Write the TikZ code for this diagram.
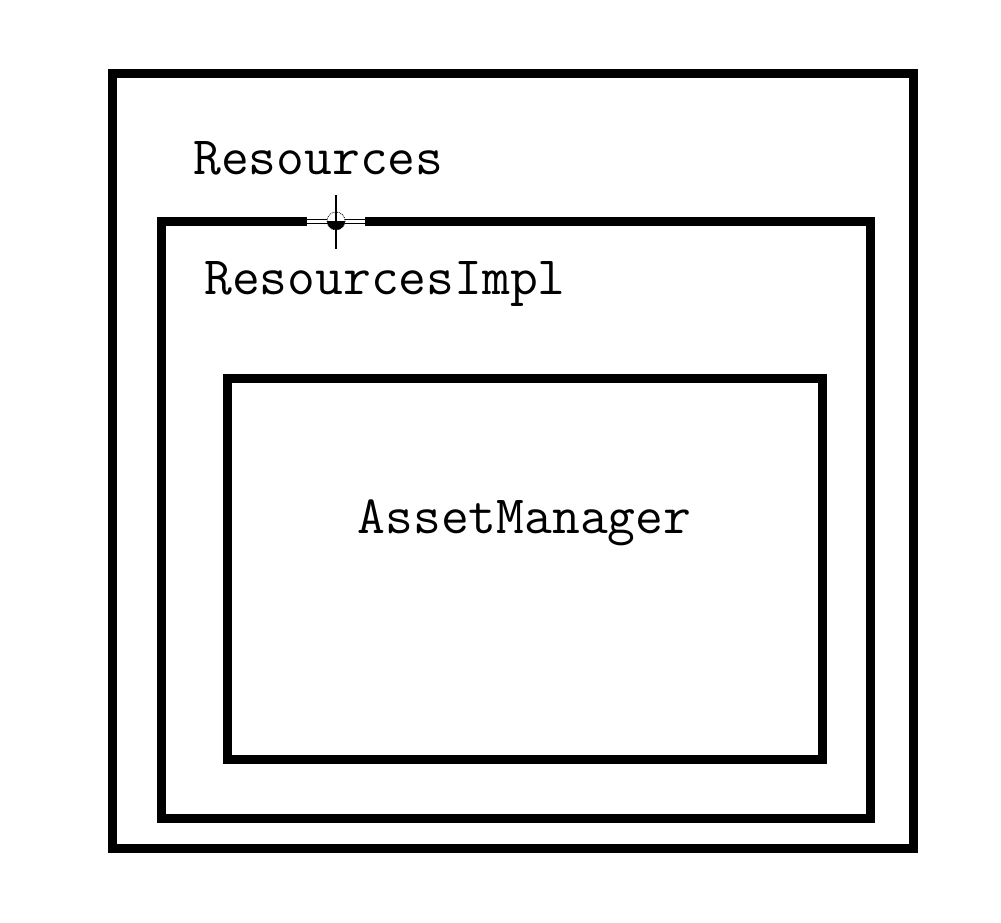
\documentclass[tikz,border=0pt]{standalone}
\tikzset{box/.style={draw,line width=9pt,inner sep=0pt,outer sep=0pt},
         label text/.style={font=\fontsize{54}{60}\ttfamily,inner sep=0pt,anchor=base west}}

\begin{document}
\begin{tikzpicture}[x=1pt,y=-1pt]
            \useasboundingbox (0,0) rectangle (1001,923);
            \node[box,minimum width=801.5pt,minimum height=775pt] (resources) at (512.75,461) {};
            \node[box,minimum width=709pt,minimum height=597pt] (resimpl) at (516,519.5) {};
            \node[box,minimum width=595pt,minimum height=381pt] (assetmgr) at (524.5,568.5) {};
            \node[label text] (reslabel) at (193,175) {Resources};
            \node[label text] (impllabel) at (204,294) {ResourcesImpl};
            \node[label text,anchor=base] (assetlabel) at (assetmgr.center |- 0,533) {AssetManager};
            % cursor on the top edge
            \fill[white] (307,215) rectangle (365,227);
            \draw[line width=1pt] (307,219) -- (365,219) (307,223) -- (365,223);
            \fill[white] (336,221) circle (9);
            \fill (327,221) arc (180:0:9) -- cycle;
            \draw[line width=0.8pt,densely dotted] (336,221) circle (9);
            \draw[line width=1.2pt] (336,195) -- (336,249);
        \end{tikzpicture}
\end{document}
